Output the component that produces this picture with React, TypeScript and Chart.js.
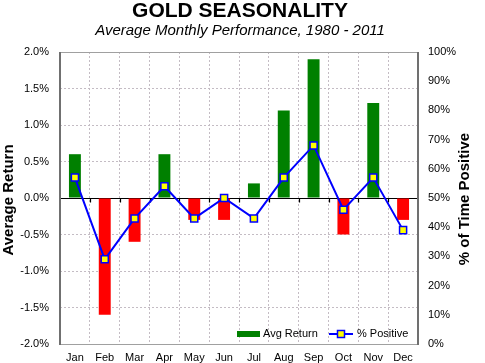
import React, { useEffect, useRef } from "react";
import { Chart, registerables } from "chart.js";

Chart.register(...registerables);

const months = ["Jan", "Feb", "Mar", "Apr", "May", "Jun", "Jul", "Aug", "Sep", "Oct", "Nov", "Dec"];
const avgReturn = [0.6, -1.6, -0.6, 0.6, -0.3, -0.3, 0.2, 1.2, 1.9, -0.5, 1.3, -0.3];
const pctPositive = [57, 29, 43, 54, 43, 50, 43, 57, 68, 46, 57, 39];
const titleText = "GOLD SEASONALITY";
const subtitleText = "Average Monthly Performance, 1980 - 2011";
const leftAxisTitle = "Average Return";
const rightAxisTitle = "% of Time Positive";
const barLabel = "Avg Return";
const lineLabel = "% Positive";

const FONT = "'Liberation Sans', Arial, sans-serif";
const GREEN = "#008000";
const RED = "#ff0000";
const BLUE = "#0000ff";
const YELLOW = "#ffff00";

const decorPlugin = {
  id: "decor",
  beforeDatasetsDraw(chart: any) {
    const { ctx, chartArea } = chart;
    const y = chart.scales.y;
    const x = chart.scales.x;
    const y0 = Math.round(y.getPixelForValue(0)) + 0.5;
    ctx.save();
    ctx.strokeStyle = "#000";
    ctx.lineWidth = 1.2;
    ctx.beginPath();
    ctx.moveTo(chartArea.left, y0);
    ctx.lineTo(chartArea.right, y0);
    const n = months.length;
    for (let i = 1; i < n; i++) {
      const px = Math.round((x.getPixelForValue(i - 1) + x.getPixelForValue(i)) / 2) + 0.5;
      ctx.moveTo(px, y0);
      ctx.lineTo(px, y0 + 4);
    }
    ctx.stroke();
    ctx.restore();
  },
  afterDraw(chart: any) {
    const { ctx, chartArea } = chart;
    ctx.save();
    ctx.strokeStyle = "#a0a0a0";
    ctx.lineWidth = 1;
    ctx.beginPath();
    ctx.moveTo(chartArea.left, chartArea.top + 0.5);
    ctx.lineTo(chartArea.right, chartArea.top + 0.5);
    ctx.moveTo(chartArea.left, chartArea.bottom + 0.5);
    ctx.lineTo(chartArea.right, chartArea.bottom + 0.5);
    ctx.stroke();
    ctx.strokeStyle = "#707070";
    ctx.lineWidth = 2;
    ctx.beginPath();
    ctx.moveTo(chartArea.left, chartArea.top);
    ctx.lineTo(chartArea.left, chartArea.bottom + 1);
    ctx.moveTo(chartArea.right, chartArea.top);
    ctx.lineTo(chartArea.right, chartArea.bottom + 1);
    ctx.stroke();

    ctx.fillStyle = "#000";
    ctx.textAlign = "center";
    ctx.textBaseline = "middle";
    ctx.font = `bold 21px ${FONT}`;
    ctx.fillText(titleText, 240, 11);
    ctx.font = `italic 15px ${FONT}`;
    ctx.fillText(subtitleText, 240, 31);

    ctx.font = `bold 15px ${FONT}`;
    ctx.save();
    ctx.translate(9, 200);
    ctx.rotate(-Math.PI / 2);
    ctx.fillText(leftAxisTitle, 0, 0);
    ctx.restore();
    ctx.save();
    ctx.translate(465, 199);
    ctx.rotate(-Math.PI / 2);
    ctx.fillText(rightAxisTitle, 0, 0);
    ctx.restore();

    const ly = 334;
    ctx.fillStyle = GREEN;
    ctx.fillRect(237, ly - 3, 23, 6);
    ctx.font = `11px ${FONT}`;
    ctx.fillStyle = "#000";
    ctx.textAlign = "left";
    ctx.fillText(barLabel, 263, ly);
    ctx.strokeStyle = BLUE;
    ctx.lineWidth = 2;
    ctx.beginPath();
    ctx.moveTo(329, ly);
    ctx.lineTo(353, ly);
    ctx.stroke();
    ctx.fillStyle = YELLOW;
    ctx.fillRect(337.5, ly - 3.5, 7, 7);
    ctx.lineWidth = 1.5;
    ctx.strokeRect(337.5, ly - 3.5, 7, 7);
    ctx.fillStyle = "#000";
    ctx.fillText(lineLabel, 357, ly);
    ctx.restore();
  },
};

export default function App() {
  const ref = useRef<HTMLCanvasElement>(null);
  useEffect(() => {
    document.body.style.margin = "0";
    const canvas = ref.current!;
    const chart = new Chart(canvas, {
      type: "bar",
      data: {
        labels: months,
        datasets: [
          {
            type: "line",
            label: lineLabel,
            data: pctPositive,
            yAxisID: "y1",
            borderColor: BLUE,
            borderWidth: 2,
            pointStyle: "rect",
            pointRadius: 5,
            pointBackgroundColor: YELLOW,
            pointBorderColor: BLUE,
            pointBorderWidth: 1.5,
            tension: 0,
            order: 0,
          } as any,
          {
            type: "bar",
            label: barLabel,
            data: avgReturn,
            yAxisID: "y",
            backgroundColor: avgReturn.map((v) => (v >= 0 ? GREEN : RED)),
            barPercentage: 0.4,
            categoryPercentage: 1,
            order: 1,
          },
        ],
      },
      options: {
        responsive: false,
        animation: false,
        layout: { padding: { top: 52, left: 0, right: 0, bottom: 0 } },
        plugins: {
          legend: { display: false },
          title: { display: false },
          tooltip: { enabled: false },
        },
        scales: {
          x: {
            grid: { offset: true, color: "#c4bcc4", lineWidth: 1, drawTicks: false },
            border: { display: false, dash: [2, 2] },
            ticks: { font: { family: FONT, size: 11 }, color: "#000", padding: 7, maxRotation: 0 },
            afterFit: (s: any) => {
              s.height = 19;
            },
          },
          y: {
            position: "left",
            min: -2,
            max: 2,
            grid: { color: "#c4bcc4", lineWidth: 1, drawTicks: false },
            border: { display: false, dash: [2, 2] },
            ticks: {
              stepSize: 0.5,
              font: { family: FONT, size: 11 },
              color: "#000",
              padding: 11,
              callback: (v: any) => Number(v).toFixed(1) + "%",
            },
            afterFit: (s: any) => {
              s.width = 60;
            },
          },
          y1: {
            position: "right",
            min: 0,
            max: 100,
            grid: { drawOnChartArea: false, drawTicks: false },
            border: { display: false },
            ticks: {
              stepSize: 10,
              font: { family: FONT, size: 11 },
              color: "#000",
              padding: 10,
              callback: (v: any) => v + "%",
            },
            afterFit: (s: any) => {
              s.width = 67;
            },
          },
        },
      },
      plugins: [decorPlugin],
    });
    return () => chart.destroy();
  }, []);
  return (
    <canvas
      ref={ref}
      width={485}
      height={363}
      style={{ display: "block", position: "fixed", left: 0, top: 0, width: 485, height: 363 }}
    />
  );
}
